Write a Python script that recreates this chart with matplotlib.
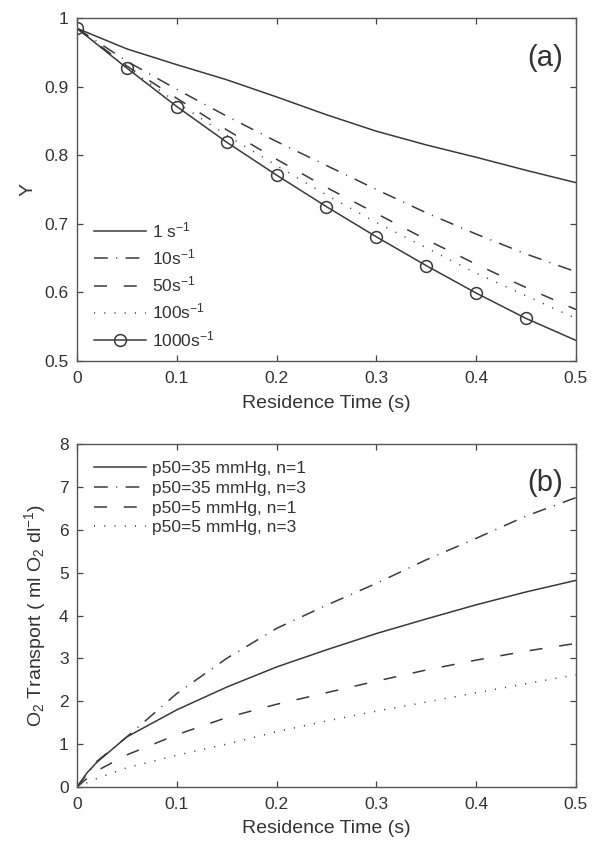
import numpy as np
import matplotlib.pyplot as plt

plt.rcParams['font.family'] = ['Liberation Sans', 'DejaVu Sans']
plt.rcParams['mathtext.fontset'] = 'custom'
plt.rcParams['mathtext.rm'] = 'Liberation Sans'
plt.rcParams['mathtext.default'] = 'regular'

# residence time (s)
t = [0, 0.05, 0.1, 0.15, 0.2, 0.25, 0.3, 0.35, 0.4, 0.45, 0.5]

# (a) saturation Y for different shear rates
y_1 = [0.985, 0.955, 0.932, 0.910, 0.885, 0.859, 0.835, 0.815, 0.797, 0.778, 0.760]
y_10 = [0.985, 0.937, 0.896, 0.857, 0.820, 0.785, 0.750, 0.716, 0.685, 0.656, 0.630]
y_50 = [0.985, 0.930, 0.883, 0.837, 0.794, 0.753, 0.715, 0.677, 0.641, 0.607, 0.575]
y_100 = [0.985, 0.928, 0.877, 0.829, 0.785, 0.742, 0.702, 0.665, 0.628, 0.595, 0.562]
y_1000 = [0.985, 0.927, 0.871, 0.819, 0.771, 0.725, 0.681, 0.639, 0.599, 0.562, 0.530]
labels_a = ["1 s$^{-1}$", "10s$^{-1}$", "50s$^{-1}$", "100s$^{-1}$", "1000s$^{-1}$"]

# (b) O2 transport
t_b = [0, 0.01, 0.02, 0.05, 0.1, 0.15, 0.2, 0.25, 0.3, 0.35, 0.4, 0.45, 0.5]
o2_35_1 = [0, 0.33, 0.58, 1.17, 1.80, 2.33, 2.80, 3.20, 3.58, 3.92, 4.25, 4.55, 4.82]
o2_35_3 = [0, 0.30, 0.60, 1.17, 2.18, 3.00, 3.70, 4.24, 4.75, 5.30, 5.80, 6.32, 6.75]
o2_5_1 = [0, 0.20, 0.38, 0.75, 1.22, 1.62, 1.93, 2.20, 2.47, 2.73, 2.96, 3.17, 3.35]
o2_5_3 = [0, 0.10, 0.20, 0.45, 0.74, 1.00, 1.29, 1.54, 1.77, 1.98, 2.20, 2.41, 2.62]
labels_b = ["p50=35 mmHg, n=1", "p50=35 mmHg, n=3", "p50=5 mmHg, n=1", "p50=5 mmHg, n=3"]

lc = "#3a3a3a"
tc = "#333333"
lw = 1.1
dashdot = (0, (9, 5.5, 0.7, 5.5))
dashed = (0, (8.5, 11))
dotted = (0, (0.7, 6))

fig = plt.figure(figsize=(6, 8.47), dpi=100)
ax1 = fig.add_axes([0.1283, 0.5738, 0.8317, 0.4049])
ax2 = fig.add_axes([0.1283, 0.0708, 0.8317, 0.4050])

ax1.plot(t, y_1, color=lc, lw=lw, ls='-', label=labels_a[0])
ax1.plot(t, y_10, color=lc, lw=lw, ls=dashdot, label=labels_a[1])
ax1.plot(t, y_50, color=lc, lw=lw, ls=dashed, label=labels_a[2])
ax1.plot(t, y_100, color=lc, lw=lw, ls=dotted, label=labels_a[3])
ax1.plot(t, y_1000, color=lc, lw=lw, ls='-', marker='o', ms=8.5, mfc='none',
         mec=lc, mew=1.1, markevery=slice(0, 10), label=labels_a[4])
ax1.set_xlim(0, 0.5)
ax1.set_ylim(0.5, 1)
ax1.set_xticks([0, 0.1, 0.2, 0.3, 0.4, 0.5])
ax1.set_xticklabels(["0", "0.1", "0.2", "0.3", "0.4", "0.5"])
ax1.set_yticks([0.5, 0.6, 0.7, 0.8, 0.9, 1])
ax1.set_yticklabels(["0.5", "0.6", "0.7", "0.8", "0.9", "1"])
ax1.set_xlabel("Residence Time (s)", fontsize=14, color=tc, labelpad=7)
ax1.set_ylabel("Y", fontsize=14, color=tc, labelpad=6)
ax1.text(0.974, 0.883, "(a)", transform=ax1.transAxes, ha='right', va='center',
         fontsize=21, color=tc)
ax1.legend(loc='upper left', bbox_to_anchor=(0.035, 0.41), frameon=False, fontsize=12.5,
           handlelength=2.95, handletextpad=0.35, labelspacing=0.42, borderaxespad=0,
           borderpad=0, labelcolor=tc)

ax2.plot(t_b, o2_35_1, color=lc, lw=lw, ls='-', label=labels_b[0])
ax2.plot(t_b, o2_35_3, color=lc, lw=lw, ls=dashdot, label=labels_b[1])
ax2.plot(t_b, o2_5_1, color=lc, lw=lw, ls=dashed, label=labels_b[2])
ax2.plot(t_b, o2_5_3, color=lc, lw=lw, ls=dotted, label=labels_b[3])
ax2.set_xlim(0, 0.5)
ax2.set_ylim(0, 8)
ax2.set_xticks([0, 0.1, 0.2, 0.3, 0.4, 0.5])
ax2.set_xticklabels(["0", "0.1", "0.2", "0.3", "0.4", "0.5"])
ax2.set_yticks(range(0, 9))
ax2.set_xlabel("Residence Time (s)", fontsize=14, color=tc, labelpad=6)
ax2.set_ylabel("O$_2$ Transport ( ml O$_2$ dl$^{-1}$)", fontsize=14, color=tc, labelpad=8)
ax2.text(0.974, 0.886, "(b)", transform=ax2.transAxes, ha='right', va='center',
         fontsize=21, color=tc)
ax2.legend(loc='upper left', bbox_to_anchor=(0.035, 0.95), frameon=False, fontsize=12.5,
           handlelength=2.95, handletextpad=0.35, labelspacing=0.26, borderaxespad=0,
           borderpad=0, labelcolor=tc)

for ax in (ax1, ax2):
    ax.tick_params(direction='in', top=True, right=True, length=4, width=0.9,
                   labelsize=12.5, colors="#444444", labelcolor=tc, pad=6)
    ax.tick_params(axis='x', pad=7)
    for s in ax.spines.values():
        s.set_color("#555555")
        s.set_linewidth(1.0)

fig.savefig("out.png", dpi=100)
